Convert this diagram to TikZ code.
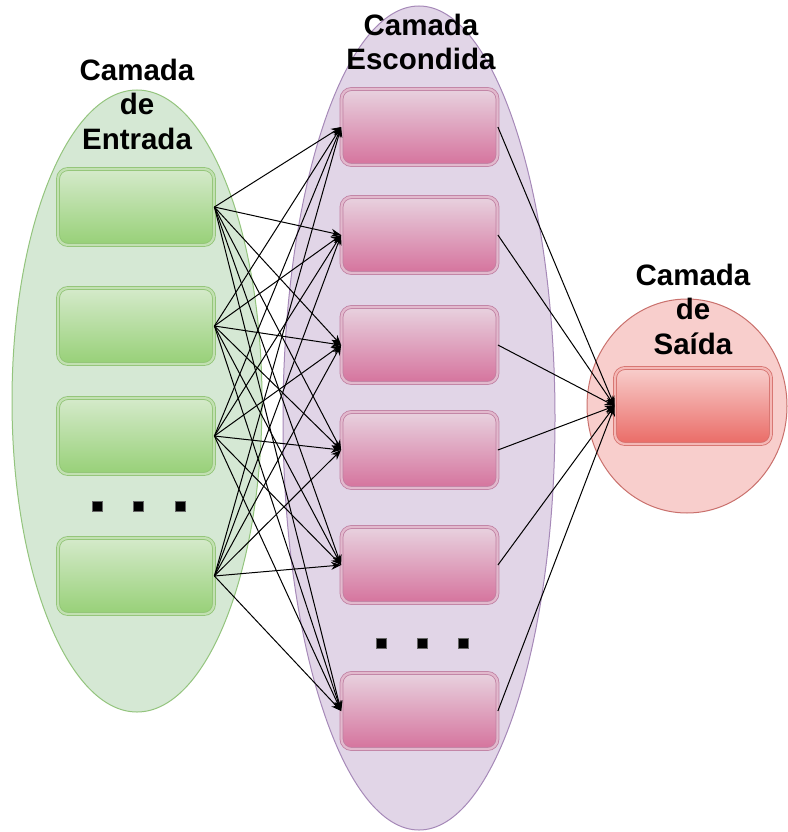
\documentclass[tikz,border=0pt]{standalone}
\usepackage{fontspec}
\setmainfont{Liberation Sans}
\usetikzlibrary{arrows.meta}
\definecolor{gFill}{HTML}{D5E8D4}
\definecolor{gLine}{HTML}{93C47D}
\definecolor{gTop}{HTML}{D5EACB}
\definecolor{gBot}{HTML}{97D077}
\definecolor{gBox}{HTML}{8FC373}
\definecolor{gGap}{HTML}{C2E0B2}
\definecolor{pFill}{HTML}{E1D5E7}
\definecolor{pLine}{HTML}{A689B8}
\definecolor{pTop}{HTML}{E8D2DF}
\definecolor{pBot}{HTML}{D5739D}
\definecolor{pBox}{HTML}{BF7FA2}
\definecolor{pGap}{HTML}{E2B9CD}
\definecolor{rFill}{HTML}{F8CECC}
\definecolor{rLine}{HTML}{C9706C}
\definecolor{rTop}{HTML}{F8CECC}
\definecolor{rBot}{HTML}{EA6B66}
\definecolor{rBox}{HTML}{D46E6A}
\definecolor{rGap}{HTML}{F4B8B6}
\tikzset{
  glass/.style n args={4}{rounded corners=10pt, minimum width=156pt, minimum height=76pt,
    inner sep=0pt, line width=0.8pt, draw=#1, double=#2, double distance=2.2pt,
    top color=#3, bottom color=#4},
  gbox/.style={glass={gBox}{gGap}{gTop}{gBot}},
  pbox/.style={glass={pBox}{pGap}{pTop}{pBot}},
  rbox/.style={glass={rBox}{rGap}{rTop}{rBot}},
  layer/.style={font=\bfseries\fontsize{29.5}{34.5}\selectfont, align=center, inner sep=0pt},
  arr/.style={line width=1pt, -{Stealth[length=10pt,width=8pt]}},
  dotsq/.style={fill=black, draw=black!60, line width=0.5pt, minimum size=10pt, inner sep=0pt}
}
\begin{document}
\begin{tikzpicture}[x=1pt,y=-1pt]
\useasboundingbox (0,0) rectangle (787,832);
% layer ellipses
\draw[fill=gFill, draw=gLine, line width=1pt] (137,401) ellipse [x radius=125pt, y radius=311pt];
\draw[fill=pFill, draw=pLine, line width=1pt] (419,418) ellipse [x radius=136pt, y radius=412pt];
\draw[fill=rFill, draw=rLine, line width=1pt] (687,406) ellipse [x radius=100pt, y radius=107pt];
% labels
\node[layer] (lin) at (137,104) {Camada\\de\\Entrada};
\node[layer] (lhid) at (421,42) {Camada\\Escondida};
\node[layer] (lout) at (693,309) {Camada\\de\\Saída};
% boxes
\node[gbox] (i1) at (136,207) {};
\node[gbox] (i2) at (136,326) {};
\node[gbox] (i3) at (136,436) {};
\node[gbox] (i4) at (136,576) {};
\node[pbox] (h1) at (419.5,127) {};
\node[pbox] (h2) at (419.5,235) {};
\node[pbox] (h3) at (419.5,345) {};
\node[pbox] (h4) at (419.5,450) {};
\node[pbox] (h5) at (419.5,565) {};
\node[pbox] (h6) at (419.5,711) {};
\node[rbox] (o) at (693,406) {};
% dots
\node[dotsq] (d1) at (97,506) {};
\node[dotsq] (d2) at (138,506) {};
\node[dotsq] (d3) at (180,506) {};
\node[dotsq] (e1) at (381,643) {};
\node[dotsq] (e2) at (422,643) {};
\node[dotsq] (e3) at (463,643) {};
% connections
\foreach \i in {1,2,3,4}{
  \foreach \h in {1,...,6}{
    \draw[arr] (i\i.east) -- (h\h.west);
  }
}
\foreach \h in {1,...,6}{
  \draw[arr] (h\h.east) -- (o.west);
}
\end{tikzpicture}
\end{document}
